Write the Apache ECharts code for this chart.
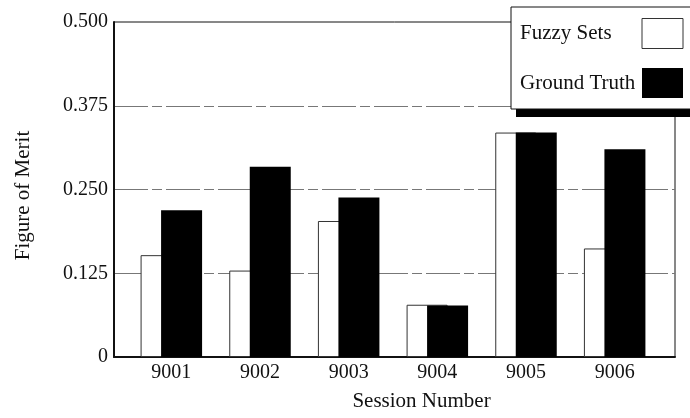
<!DOCTYPE html>
<html>
<head>
<meta charset="utf-8">
<script src="https://cdn.jsdelivr.net/npm/echarts@6/dist/echarts.min.js"></script>
<style>
  html, body { margin: 0; padding: 0; background: #fff; }
  #chart { width: 690px; height: 418px; }
</style>
</head>
<body>
<div id="chart"></div>
<script>
// Session numbers on the x axis
const sessions = ['9001', '9002', '9003', '9004', '9005', '9006'];
// Figure of merit per session
const fuzzySets = [0.152, 0.129, 0.203, 0.078, 0.335, 0.162];
const groundTruth = [0.219, 0.284, 0.238, 0.077, 0.335, 0.310];
// Y axis range and step
const yMin = 0;
const yMax = 0.5;
const yStep = 0.125;

const serif = 'Liberation Serif';
const ink = '#111';

const chart = echarts.init(document.getElementById('chart'), null, { renderer: 'canvas' });

chart.setOption({
  backgroundColor: '#fff',
  animation: false,
  textStyle: { fontFamily: serif, color: ink },
  grid: [
    // outer frame carrying the value axis and grid lines
    { left: 114, right: 15, top: 22, bottom: 61, show: true, borderColor: ink, borderWidth: 1, backgroundColor: 'transparent' },
    // inner band where the session groups sit
    { left: 127, right: 31, top: 22, bottom: 61 }
  ],
  // solid drop shadow under the legend box
  graphic: [
    {
      type: 'rect', left: 516, top: 16, z: 3,
      shape: { width: 200, height: 101 },
      style: { fill: '#000' }
    }
  ],
  xAxis: [
    {
      gridIndex: 0, type: 'category', data: sessions, boundaryGap: true,
      axisLine: { show: true, lineStyle: { color: ink, width: 2 } },
      axisTick: { show: false }, axisLabel: { show: false },
      name: 'Session Number', nameLocation: 'middle', nameGap: 34,
      nameTextStyle: { fontFamily: serif, fontSize: 21, color: ink, padding: [0, 0, 0, 54] }
    },
    {
      gridIndex: 1, type: 'category', data: sessions,
      axisLine: { show: false }, axisTick: { show: false },
      axisLabel: { fontFamily: serif, fontSize: 20, color: ink, margin: 6 }
    }
  ],
  yAxis: [
    {
      gridIndex: 0, type: 'value', min: yMin, max: yMax, interval: yStep,
      axisLine: { show: true, lineStyle: { color: ink, width: 2 } },
      axisTick: { show: false },
      axisLabel: {
        fontFamily: serif, fontSize: 20, color: ink, margin: 6,
        formatter: v => (v === 0 ? '0' : v.toFixed(3))
      },
      splitLine: {
        show: true, showMinLine: false, showMaxLine: false,
        lineStyle: { color: '#777', width: 1, type: [34, 4, 10, 4] }
      },
      name: 'Figure of Merit', nameLocation: 'middle', nameGap: 80, nameRotate: 90,
      nameTextStyle: { fontFamily: serif, fontSize: 21, color: ink, padding: [0, 12, 0, 0] }
    },
    {
      gridIndex: 1, type: 'value', min: yMin, max: yMax, interval: yStep, show: false,
      splitLine: { show: false }
    }
  ],
  legend: {
    orient: 'vertical', left: 511, top: 7, z: 5,
    align: 'right',
    padding: [11, 20, 11, 9],
    itemWidth: 41, itemHeight: 30, itemGap: 19,
    icon: 'rect',
    backgroundColor: '#fff', borderColor: ink, borderWidth: 1,
    formatter: name => '{t|' + name + '}',
    textStyle: {
      fontFamily: serif, fontSize: 21, color: ink,
      rich: { t: { width: 117, align: 'left', fontFamily: serif, fontSize: 21, color: ink } }
    },
    data: [
      { name: 'Fuzzy Sets', itemStyle: { color: '#fff', borderColor: '#333', borderWidth: 1 } },
      { name: 'Ground Truth', itemStyle: { color: '#000' } }
    ]
  },
  series: [
    {
      name: 'Fuzzy Sets', type: 'bar', xAxisIndex: 1, yAxisIndex: 1,
      data: fuzzySets, barWidth: 41, barGap: '-50%',
      itemStyle: { color: '#fff', borderColor: '#333', borderWidth: 1 }
    },
    {
      name: 'Ground Truth', type: 'bar', xAxisIndex: 1, yAxisIndex: 1,
      data: groundTruth, barWidth: 41, barGap: '-50%',
      itemStyle: { color: '#000', borderColor: '#000', borderWidth: 0 }
    }
  ]
});
</script>
</body>
</html>
